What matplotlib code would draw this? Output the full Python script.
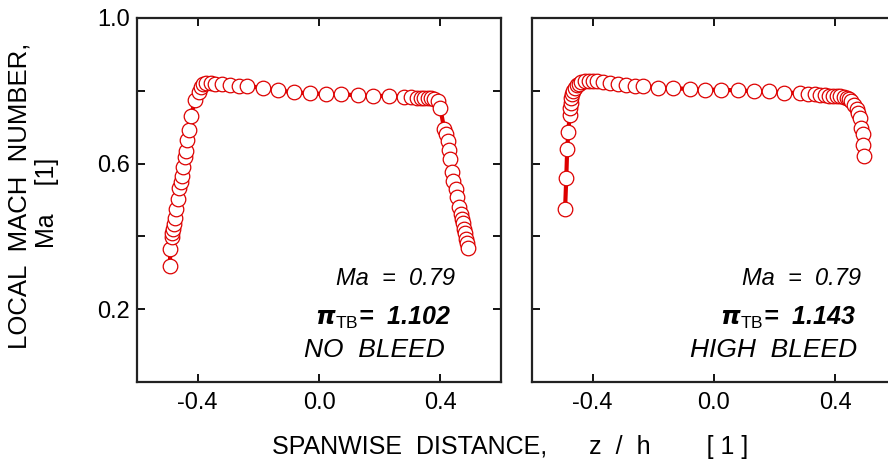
import numpy as np
import matplotlib.pyplot as plt

plt.rcParams['font.family'] = ['Liberation Sans', 'DejaVu Sans']
plt.rcParams['mathtext.fontset'] = 'custom'
plt.rcParams['mathtext.rm'] = 'Liberation Sans'
plt.rcParams['mathtext.it'] = 'Liberation Sans:italic'
plt.rcParams['mathtext.bf'] = 'Liberation Sans:bold:italic'

# --- spanwise Mach number distributions ---
z_nobleed = [-0.492, -0.490, -0.486, -0.483, -0.481, -0.478, -0.475, -0.471, -0.466, -0.460,
             -0.456, -0.452, -0.448, -0.443, -0.440, -0.434, -0.429, -0.423, -0.408, -0.397,
             -0.390, -0.382, -0.371, -0.357, -0.343, -0.319, -0.292, -0.264, -0.237, -0.186,
             -0.134, -0.082, -0.029, 0.023, 0.074, 0.127, 0.178, 0.230, 0.279, 0.303,
             0.323, 0.336, 0.347, 0.358, 0.369, 0.380, 0.391, 0.400, 0.413, 0.418,
             0.424, 0.429, 0.432, 0.437, 0.443, 0.451, 0.456, 0.462, 0.467, 0.470,
             0.474, 0.478, 0.482, 0.484, 0.489, 0.491]
ma_nobleed = [0.319, 0.365, 0.397, 0.410, 0.421, 0.434, 0.450, 0.476, 0.503, 0.532,
              0.550, 0.566, 0.591, 0.619, 0.635, 0.665, 0.692, 0.730, 0.774, 0.797,
              0.811, 0.818, 0.822, 0.822, 0.820, 0.818, 0.815, 0.814, 0.813, 0.808,
              0.801, 0.796, 0.793, 0.791, 0.790, 0.788, 0.786, 0.786, 0.784, 0.782,
              0.781, 0.780, 0.780, 0.780, 0.779, 0.777, 0.772, 0.752, 0.694, 0.681,
              0.663, 0.637, 0.612, 0.576, 0.553, 0.530, 0.507, 0.480, 0.462, 0.449,
              0.437, 0.421, 0.408, 0.394, 0.382, 0.367]

z_highbleed = [-0.491, -0.487, -0.484, -0.480, -0.476, -0.474, -0.472, -0.470, -0.467, -0.464,
               -0.459, -0.452, -0.445, -0.437, -0.426, -0.413, -0.399, -0.385, -0.366, -0.344,
               -0.317, -0.290, -0.262, -0.235, -0.184, -0.134, -0.080, -0.029, 0.024, 0.078,
               0.131, 0.181, 0.232, 0.284, 0.311, 0.333, 0.349, 0.366, 0.379, 0.393,
               0.406, 0.417, 0.428, 0.437, 0.446, 0.453, 0.461, 0.470, 0.475, 0.481,
               0.486, 0.490, 0.492, 0.495]
ma_highbleed = [0.474, 0.561, 0.640, 0.688, 0.734, 0.752, 0.767, 0.779, 0.790, 0.800,
                0.809, 0.816, 0.820, 0.824, 0.826, 0.826, 0.826, 0.826, 0.824, 0.822,
                0.819, 0.816, 0.814, 0.813, 0.809, 0.807, 0.805, 0.803, 0.803, 0.801,
                0.799, 0.799, 0.795, 0.794, 0.792, 0.790, 0.789, 0.788, 0.787, 0.786,
                0.786, 0.785, 0.784, 0.781, 0.777, 0.771, 0.762, 0.751, 0.739, 0.725,
                0.698, 0.682, 0.652, 0.622]

panels = [
    (z_nobleed, ma_nobleed, '1.102', 'NO  BLEED'),
    (z_highbleed, ma_highbleed, '1.143', 'HIGH  BLEED'),
]
text_right = [(0.449, 0.436, 0.413), (0.485, 0.469, 0.472)]

W, H = 888, 465
fig = plt.figure(figsize=(W / 100, H / 100), dpi=100)
axes = [fig.add_axes([137 / W, 83 / H, 364 / W, 364 / H]),
        fig.add_axes([532 / W, 83 / H, 364 / W, 364 / H])]

red = '#dd0000'
for i, (ax, (z, ma, pi_val, label)) in enumerate(zip(axes, panels)):
    ax.plot(z, ma, '-', color=red, lw=3, zorder=2)
    ax.plot(z, ma, 'o', ms=10.5, mfc='white', mec=red, mew=0.9, zorder=3)
    ax.set_xlim(-0.6, 0.6)
    ax.set_ylim(0.0, 1.0)
    ax.set_xticks([-0.4, 0.0, 0.4])
    ax.set_xticklabels(['-0.4', '0.0', '0.4'])
    ax.set_yticks([0.2, 0.4, 0.6, 0.8, 1.0])
    if i == 0:
        ax.set_yticklabels(['0.2', '', '0.6', '', '1.0'])
    else:
        ax.set_yticklabels([])
    ax.tick_params(direction='in', length=6, width=1.3, top=True, right=True,
                   labelsize=17)
    ax.tick_params(axis='x', pad=7)
    ax.tick_params(axis='y', pad=5)
    for s in ax.spines.values():
        s.set_linewidth(1.6)
        s.set_color('#222222')

    xa, xb, xc = text_right[i]
    ax.text(xa, 0.283, 'Ma  =  0.79', style='italic', fontsize=17,
            ha='right', va='center')
    ax.text(xb, 0.176, r'$\boldsymbol{\pi}_{\mathrm{TB}}$= ' + ' ' + pi_val,
            style='italic', fontweight='bold', fontsize=18, ha='right', va='center')
    ax.text(xc, 0.088, label, style='italic', fontsize=19, ha='right', va='center')

fig.text(20 / W, 1 - 196 / H, 'LOCAL  MACH  NUMBER,', rotation=90,
         fontsize=18.5, ha='center', va='center')
fig.text(47 / W, 1 - 203 / H, 'Ma    [1]', rotation=90,
         fontsize=18, ha='center', va='center')
fig.text(510 / W, 1 - 447 / H, 'SPANWISE  DISTANCE,      z  /  h        [ 1 ]',
         fontsize=18, ha='center', va='center')

fig.savefig('out.png', dpi=100)
